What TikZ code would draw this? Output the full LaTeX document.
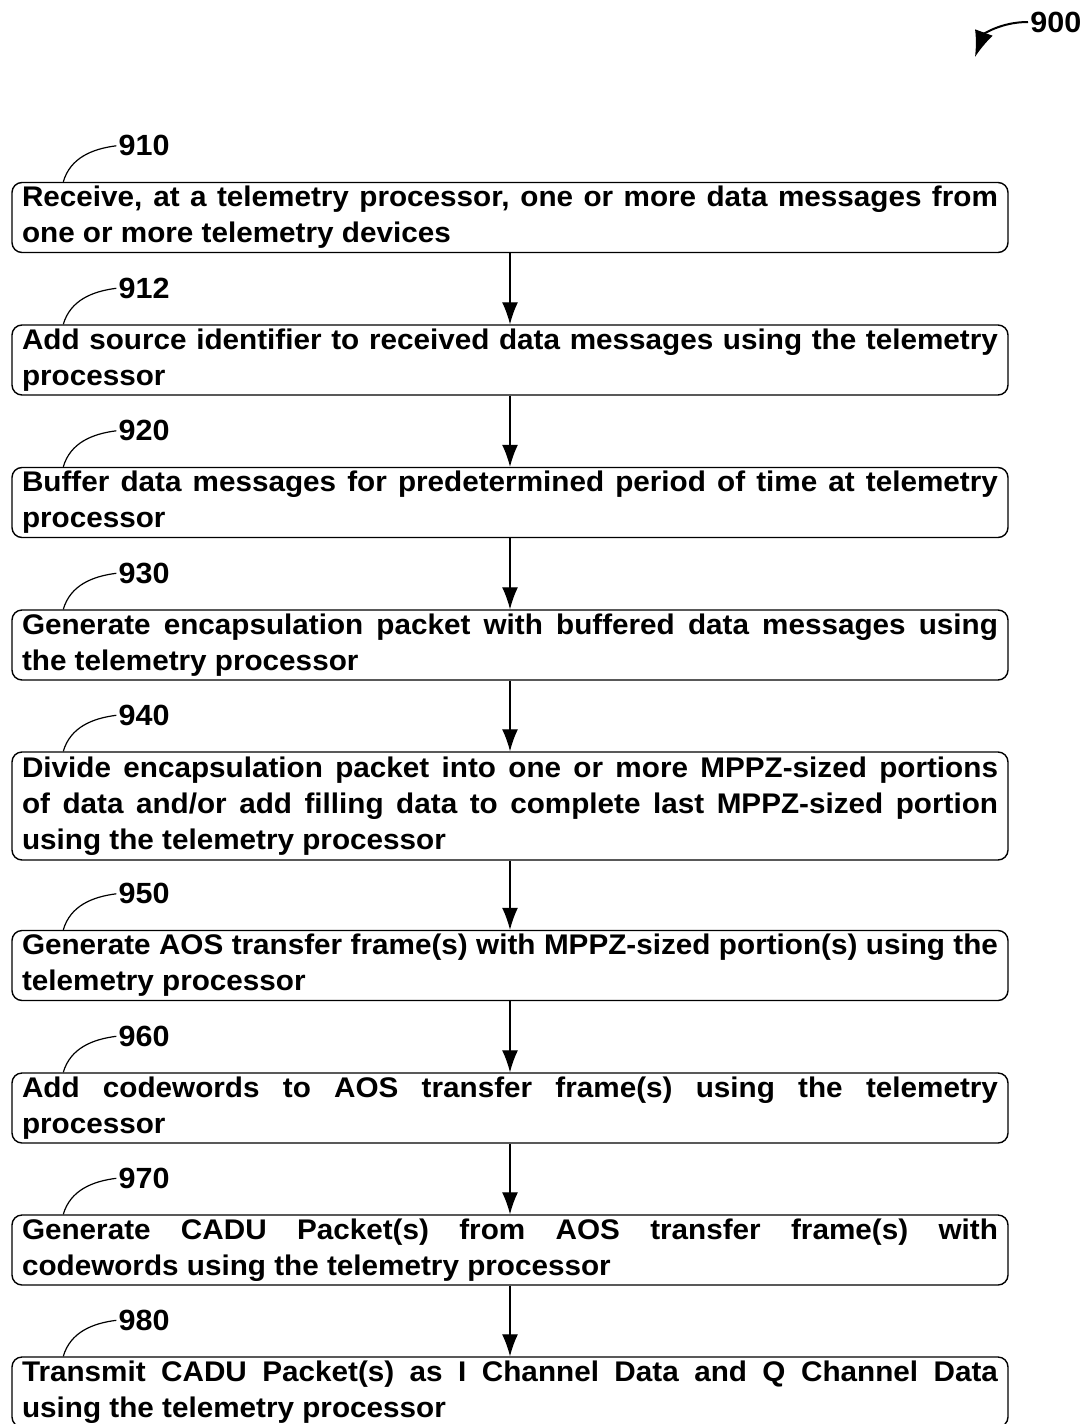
\documentclass[tikz,border=0pt]{standalone}
\usepackage{fontspec}
\setmainfont{Liberation Sans}[FakeStretch=1.045]
\usetikzlibrary{arrows.meta,calc}
\tolerance=10000
\hbadness=10000

\tikzset{
  stepbox/.style={draw, line width=0.7pt, rounded corners=5pt,
    text width=488pt, inner xsep=5pt, inner ysep=0pt, align=justify,
    minimum height=35pt,
    font=\fontsize{14.2}{18}\selectfont\bfseries},
  tallbox/.style={stepbox, minimum height=54pt},
  lbl/.style={inner sep=1pt, anchor=west, font=\fontsize{14.6}{18}\selectfont\bfseries},
  flow/.style={line width=0.6pt, -{Latex[length=11pt,width=8pt]}},
  leader/.style={line width=0.6pt},
  refarrow/.style={line width=1pt, -{Latex[length=13pt,width=9.5pt]}}
}

\begin{document}
\begin{tikzpicture}[x=0.5pt,y=-0.5pt]
\useasboundingbox (0,0) rectangle (1083,1424);

% process steps
\node[stepbox] (b910) at (510,217.5)
  {Receive, at a telemetry processor, one or more data messages from\linebreak one or more telemetry devices};
\node[stepbox] (b912) at (510,360)
  {Add source identifier to received data messages using the telemetry\linebreak processor};
\node[stepbox] (b920) at (510,502.5)
  {Buffer data messages for predetermined period of time at telemetry\linebreak processor};
\node[stepbox] (b930) at (510,645)
  {Generate encapsulation packet with buffered data messages using\linebreak the telemetry processor};
\node[tallbox] (b940) at (510,806)
  {Divide encapsulation packet into one or more MPPZ-sized portions\linebreak of data and/or add filling data to complete last MPPZ-sized portion\linebreak using the telemetry processor};
\node[stepbox] (b950) at (510,965.5)
  {Generate AOS transfer frame(s) with MPPZ-sized portion(s) using the\linebreak telemetry processor};
\node[stepbox] (b960) at (510,1108)
  {Add codewords to AOS transfer frame(s) using the telemetry\linebreak processor};
\node[stepbox] (b970) at (510,1250)
  {Generate CADU Packet(s) from AOS transfer frame(s) with\linebreak codewords using the telemetry processor};
\node[stepbox] (b980) at (510,1392)
  {Transmit CADU Packet(s) as I Channel Data and Q Channel Data\linebreak using the telemetry processor};

% flow between steps
\foreach \a/\b in {910/912,912/920,920/930,930/940,940/950,950/960,960/970,970/980}
  \draw[flow] (b\a) -- (b\b);

% reference numerals with leader curves
\foreach \n in {910,912,920,930,940,950,960,970,980} {
  \node[lbl] (l\n) at ($(b\n.north west)+(105,-36)$) {\n};
  \draw[leader] ($(b\n.north west)+(52,0)$) .. controls +(7,-24) and +(-24,3) .. (l\n.west);
}

% figure numeral
\node[lbl] (l900) at (1028,22) {900};
\coordinate (tip900) at (975,57);
\draw[refarrow] (l900.west) .. controls +(-28,0) and +(8,-22) .. (tip900);
\end{tikzpicture}
\end{document}
